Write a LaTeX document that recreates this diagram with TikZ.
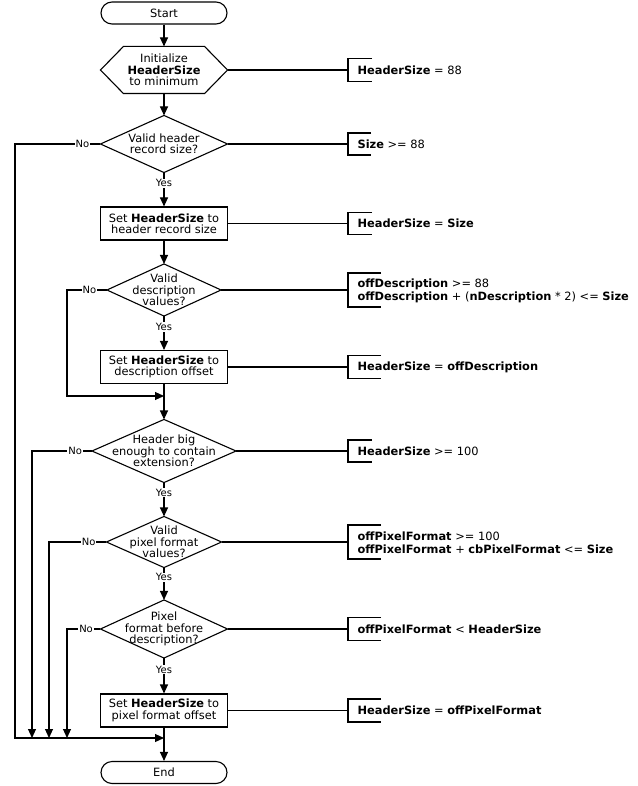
\documentclass[tikz,border=0pt]{standalone}
\usepackage{fontspec}
\setmainfont{DejaVu Sans}
\usetikzlibrary{arrows.meta}

\begin{document}
\begin{tikzpicture}[x=1pt,y=-1pt,line width=1.1pt,>={Triangle[length=9pt,width=8pt]},
        every node/.style={font=\fontsize{11.4}{11.5}\selectfont},
        term/.style={draw,rounded corners=11pt,minimum width=126pt,minimum height=22pt,inner sep=0pt},
        prep/.style={minimum width=126pt,minimum height=46pt,inner sep=0pt,align=center},
        decision/.style 2 args={minimum width=#1pt,minimum height=#2pt,inner sep=0pt,align=center},
        process/.style={draw,minimum width=127pt,minimum height=33pt,inner sep=0pt,align=center},
        note/.style={anchor=west,inner sep=0pt,align=left,font=\fontsize{11.4}{13}\selectfont},
        lbl/.style={fill=white,inner sep=1pt,font=\fontsize{10}{12}\selectfont}]
        \useasboundingbox (0,0) rectangle (637,786);

        % main column
        \node[term] (start) at (164,13) {Start};
        \node[prep] (init) at (164,70) {Initialize\\\textbf{HeaderSize}\\to minimum};
        \node[decision={126}{56}] (d1) at (164,144) {Valid header\\record size?};
        \node[process] (set1) at (164,223.5) {Set \textbf{HeaderSize} to\\header record size};
        \node[decision={113}{51}] (d2) at (164,290) {Valid\\description\\values?};
        \node[process] (set2) at (164,367) {Set \textbf{HeaderSize} to\\description offset};
        \node[decision={143}{62}] (d3) at (164,451) {Header big\\enough to contain\\extension?};
        \node[decision={114}{50}] (d4) at (164,542) {Valid\\pixel format\\values?};
        \node[decision={126}{57}] (d5) at (164,629) {Pixel\\format before\\description?};
        \node[process] (set3) at (164,710.5) {Set \textbf{HeaderSize} to\\pixel format offset};
        \node[term] (end) at (164,772.5) {End};

        \draw ([xshift=23pt]init.north west) -- ([xshift=-23pt]init.north east) -- (init.east)
            -- ([xshift=-23pt]init.south east) -- ([xshift=23pt]init.south west) -- (init.west) -- cycle;
        \foreach \d in {d1,d2,d3,d4,d5}
            \draw (\d.north) -- (\d.east) -- (\d.south) -- (\d.west) -- cycle;

        % brackets and notes
        \coordinate (brx) at (348,0);
        \foreach \k/\s/\h/\a in {k1/init/23/24,k2/d1/22/23,k3/set1/22/24,k4/d2/34/33,k5/set2/23/33,
                k6/d3/22/24,k7/d4/34/33,k8/d5/23/33,k9/set3/23/33} {
            \coordinate (\k) at (\s.east -| brx);
            \draw (\k) ++(\a,-\h/2) -| ++(-\a,\h) -- ++(\a,0);
            \draw (\s.east) -- (\k);
        }
        \node[note] (n1) at ([xshift=9pt]k1) {\textbf{HeaderSize} = 88};
        \node[note] (n2) at ([xshift=9pt]k2) {\textbf{Size} >= 88};
        \node[note] (n3) at ([xshift=9pt]k3) {\textbf{HeaderSize} = \textbf{Size}};
        \node[note] (n4) at ([xshift=9pt,yshift=-1pt]k4) {\textbf{offDescription} >= 88\\\textbf{offDescription} + (\textbf{nDescription} * 2) <= \textbf{Size}};
        \node[note] (n5) at ([xshift=9pt]k5) {\textbf{HeaderSize} = \textbf{offDescription}};
        \node[note] (n6) at ([xshift=9pt]k6) {\textbf{HeaderSize} >= 100};
        \node[note] (n7) at ([xshift=9pt,yshift=-1pt]k7) {\textbf{offPixelFormat} >= 100\\\textbf{offPixelFormat} + \textbf{cbPixelFormat} <= \textbf{Size}};
        \node[note] (n8) at ([xshift=9pt]k8) {\textbf{offPixelFormat} < \textbf{HeaderSize}};
        \node[note] (n9) at ([xshift=9pt]k9) {\textbf{HeaderSize} = \textbf{offPixelFormat}};

        % flow
        \coordinate (lane1) at (15,0);
        \coordinate (lane2) at (32,0);
        \coordinate (lane3) at (49,0);
        \coordinate (lane4) at (67,0);
        \coordinate (m1) at (164,396);
        \coordinate (m2) at (164,738);

        \draw[->] (start.south) -- (init.north);
        \draw[->] (init.south) -- (d1.north);
        \draw[->] (d1.south) -- node[lbl,pos=0.32] {Yes} (set1.north);
        \draw[->] (set1.south) -- (d2.north);
        \draw[->] (d2.south) -- node[lbl,pos=0.32] {Yes} (set2.north);
        \draw[->] (set2.south) -- (d3.north);
        \draw[->] (d3.south) -- node[lbl,pos=0.3] {Yes} (d4.north);
        \draw[->] (d4.south) -- node[lbl,pos=0.3] {Yes} (d5.north);
        \draw[->] (d5.south) -- node[lbl,pos=0.33] {Yes} (set3.north);
        \draw[->] (set3.south) -- (end.north);

        \draw[->] (d1.west) -- node[lbl,pos=0.21] {No} (d1.west -| lane1) |- (m2);
        \draw[->] (d2.west) -- node[lbl,pos=0.44] {No} (d2.west -| lane4) |- (m1);
        \draw[->] (d3.west) -- node[lbl,pos=0.28] {No} (d3.west -| lane2) -- (lane2 |- m2);
        \draw[->] (d4.west) -- node[lbl,pos=0.31] {No} (d4.west -| lane3) -- (lane3 |- m2);
        \draw[->] (d5.west) -- node[lbl,pos=0.43] {No} (d5.west -| lane4) -- (lane4 |- m2);
    \end{tikzpicture}
\end{document}
